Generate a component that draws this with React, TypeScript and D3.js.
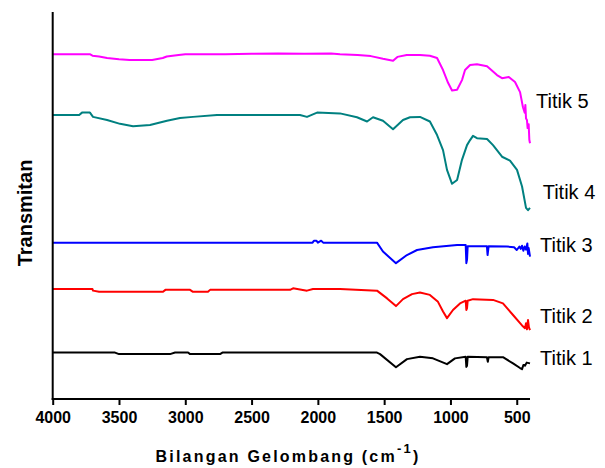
import React, { useEffect, useRef } from "react";
import * as d3 from "d3";

const width = 605;
const height = 468;
const margin = { top: 12, right: 75, bottom: 69, left: 52.7 };

// wavenumbers (cm-1) and transmittance (offset per sample)
const wn5 = [4000, 3720, 3700, 3650, 3590, 3500, 3420, 3250, 3170, 3140, 3050, 3000, 2700, 2500, 2300, 2100, 1900, 1833, 1700, 1600, 1509, 1433, 1400, 1330, 1230, 1155, 1101, 1056, 1018, 988, 950, 913, 890, 852, 800, 724, 649, 611, 560, 513, 475, 453, 440, 435, 430, 423, 418, 410, 405, 400];
const t5 = [89.1, 89.1, 88.7, 88.5, 88.1, 87.8, 87.6, 87.6, 88.1, 88.5, 88.9, 89.1, 89.1, 89.2, 89.3, 89.2, 89.3, 89.1, 88.9, 88.6, 87.9, 87.4, 88.4, 88.9, 88.9, 88.7, 88.1, 85.0, 81.7, 79.7, 79.9, 82.4, 85.0, 86.3, 86.5, 86.0, 83.7, 82.9, 83.2, 81.9, 79.3, 75.4, 74.0, 76.0, 72.5, 72.1, 70.0, 71.0, 67.0, 66.1];

const wn4 = [4000, 3800, 3779, 3719, 3696, 3590, 3492, 3394, 3266, 3138, 3040, 2942, 2761, 2135, 2082, 2006, 1833, 1705, 1629, 1584, 1509, 1433, 1358, 1305, 1230, 1155, 1101, 1056, 1026, 988, 950, 913, 875, 852, 830, 800, 724, 679, 611, 551, 498, 460, 430, 415, 400];
const t4 = [73.4, 73.4, 74.0, 74.0, 72.9, 72.1, 71.1, 70.5, 70.8, 71.9, 72.6, 72.9, 73.4, 73.4, 72.9, 74.0, 73.8, 72.8, 71.7, 72.8, 71.9, 69.7, 72.1, 72.8, 72.9, 71.7, 68.2, 64.3, 59.2, 55.6, 56.6, 61.8, 65.6, 66.9, 68.0, 67.4, 67.2, 65.6, 62.6, 61.6, 59.2, 54.9, 49.4, 48.8, 49.4];

const wn3 = [4000, 2040, 2030, 2010, 2000, 1975, 1960, 1554, 1509, 1411, 1328, 1252, 1132, 950, 885, 880, 875, 870, 725, 720, 712, 574, 520, 500, 480, 470, 460, 450, 440, 430, 420, 415, 410, 400];
const t3 = [40.4, 40.4, 40.9, 40.9, 40.4, 40.9, 40.4, 40.4, 38.1, 35.1, 37.2, 38.5, 39.2, 39.8, 39.8, 35.1, 36.0, 39.5, 39.5, 37.2, 39.5, 39.4, 39.2, 38.5, 39.4, 38.8, 39.6, 38.3, 39.4, 38.6, 40.2, 37.5, 39.0, 36.8];

const wn2 = [4000, 3700, 3696, 3650, 3168, 3150, 2964, 2942, 2829, 2813, 2210, 2187, 2082, 2037, 1833, 1554, 1478, 1411, 1358, 1290, 1230, 1155, 1094, 1056, 1026, 981, 928, 885, 880, 875, 870, 830, 679, 604, 528, 475, 460, 438, 430, 423, 415, 408, 400];
const t2 = [28.4, 28.4, 28.0, 27.7, 27.7, 28.2, 28.2, 27.7, 27.7, 28.2, 28.2, 28.6, 28.0, 28.4, 28.4, 28.0, 26.0, 24.0, 25.8, 27.1, 27.5, 26.9, 25.1, 22.6, 20.9, 23.0, 24.7, 25.4, 23.0, 23.5, 25.4, 25.8, 25.6, 24.7, 21.7, 19.6, 19.0, 18.3, 19.6, 18.0, 20.4, 18.5, 17.8];

const wn1 = [4000, 3530, 3500, 3115, 3077, 2979, 2964, 2738, 2720, 1554, 1531, 1411, 1328, 1230, 1132, 1026, 966, 885, 880, 875, 870, 725, 718, 712, 604, 528, 475, 460, 450, 438, 425, 400];
const t1 = [12.0, 12.0, 11.6, 11.6, 12.0, 12.0, 11.6, 11.6, 12.0, 12.0, 11.6, 8.2, 10.3, 10.9, 10.5, 9.0, 10.5, 10.9, 8.3, 8.6, 10.9, 10.8, 9.6, 10.8, 10.8, 9.2, 8.0, 7.7, 8.8, 8.6, 9.4, 9.2];

const seriesNames = ["Titik 5", "Titik 4", "Titik 3", "Titik 2", "Titik 1"];
const seriesColors = ["#ff00ff", "#008080", "#0000ff", "#ff0000", "#000000"];
const seriesWn = [wn5, wn4, wn3, wn2, wn1];
const seriesT = [t5, t4, t3, t2, t1];
// label baseline positions (in transmittance units) and x offsets
const labelT = [75.2, 51.7, 38.1, 19.7, 8.8];
const labelDx = [6, 12.7, 10, 10, 10];

const xTicks = [4000, 3500, 3000, 2500, 2000, 1500, 1000, 500];

const fontFamily = "'Liberation Sans', Arial, sans-serif";

export default function App() {
  const xAxisRef = useRef<SVGGElement>(null);

  const xScale = d3
    .scaleLinear()
    .domain([4000, 400])
    .range([margin.left, width - margin.right]);
  const yScale = d3
    .scaleLinear()
    .domain([0, 100])
    .range([height - margin.bottom, margin.top]);

  const line = d3
    .line<[number, number]>()
    .x(d => xScale(d[0]))
    .y(d => yScale(d[1]));

  useEffect(() => {
    const axis = d3
      .axisBottom(xScale)
      .tickValues(xTicks)
      .tickFormat(d => String(d))
      .tickSize(6)
      .tickSizeOuter(0)
      .tickPadding(7);
    const g = d3.select(xAxisRef.current!);
    g.call(axis);
    g.select(".domain").remove();
    g.selectAll(".tick line").attr("stroke", "#000").attr("stroke-width", 2);
    g.selectAll(".tick text")
      .attr("fill", "#000")
      .style("font-family", fontFamily)
      .style("font-size", "16px")
      .style("font-weight", "bold");
  }, []);

  const x0 = margin.left;
  const x1 = width - margin.right;
  const y0 = height - margin.bottom;

  return (
    <div style={{ position: "absolute", left: 0, top: 0 }}>
      <svg width={width} height={height} style={{ display: "block", background: "#fff" }}>
        {seriesWn.map((wn, i) => (
          <path
            key={seriesNames[i]}
            d={line(wn.map((w, j) => [w, seriesT[i][j]] as [number, number])) || ""}
            fill="none"
            stroke={seriesColors[i]}
            strokeWidth={2}
            strokeLinejoin="round"
          />
        ))}
        {seriesNames.map((name, i) => (
          <text
            key={name}
            x={x1 + labelDx[i]}
            y={yScale(labelT[i])}
            fontFamily={fontFamily}
            fontSize={20}
            fill="#000"
          >
            {name}
          </text>
        ))}
        {/* axes */}
        <line x1={x0} x2={x0} y1={margin.top} y2={y0 + 1} stroke="#000" strokeWidth={2} />
        <line x1={x0 - 1} x2={x1} y1={y0} y2={y0} stroke="#000" strokeWidth={2} />
        <g ref={xAxisRef} transform={`translate(0, ${y0})`} />
        <text
          x={(153 + 423) / 2}
          y={462}
          textAnchor="middle"
          fontFamily={fontFamily}
          fontSize={16}
          fontWeight="bold"
          letterSpacing={2.2}
        >
          Bilangan Gelombang (cm<tspan dy={-9} fontSize={13}>-1</tspan>
          <tspan dy={9}>)</tspan>
        </text>
        <text
          transform={`translate(32, 213) rotate(-90)`}
          textAnchor="middle"
          fontFamily={fontFamily}
          fontSize={20}
          fontWeight="bold"
        >
          Transmitan
        </text>
      </svg>
    </div>
  );
}
